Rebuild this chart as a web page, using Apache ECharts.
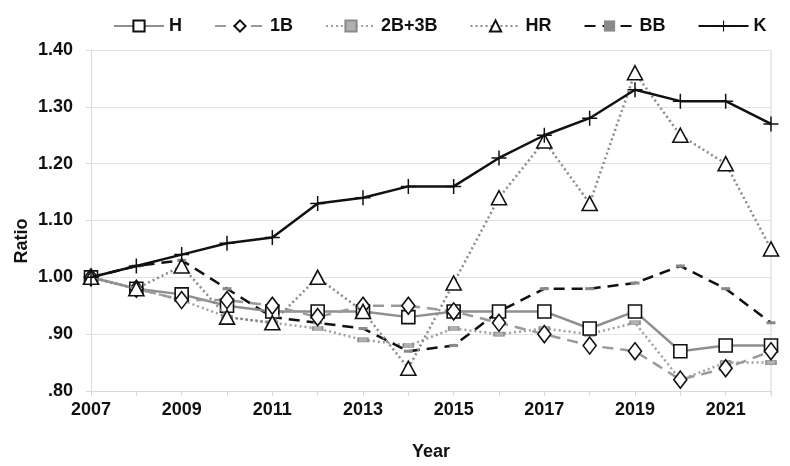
<!DOCTYPE html>
<html>
<head>
<meta charset="utf-8">
<script src="https://cdn.jsdelivr.net/npm/echarts@6/dist/echarts.min.js"></script>
<style>
  html, body { margin: 0; padding: 0; background: #fff; }
  #chart { width: 790px; height: 466px; }
</style>
</head>
<body>
<div id="chart"></div>
<script>
// Season-by-season ratios relative to 2007
const years = ['2007','2008','2009','2010','2011','2012','2013','2014','2015','2016','2017','2018','2019','2020','2021','2022'];
const hits    = [1.00, 0.98, 0.97, 0.95, 0.94, 0.94, 0.94, 0.93, 0.94, 0.94, 0.94, 0.91, 0.94, 0.87, 0.88, 0.88];
const singles = [1.00, 0.98, 0.96, 0.96, 0.95, 0.93, 0.95, 0.95, 0.94, 0.92, 0.90, 0.88, 0.87, 0.82, 0.84, 0.87];
const xbh     = [1.00, 0.98, 0.96, 0.93, 0.92, 0.91, 0.89, 0.88, 0.91, 0.90, 0.91, 0.90, 0.92, 0.82, 0.85, 0.85];
const homers  = [1.00, 0.98, 1.02, 0.93, 0.92, 1.00, 0.94, 0.84, 0.99, 1.14, 1.24, 1.13, 1.36, 1.25, 1.20, 1.05];
const walks   = [1.00, 1.02, 1.03, 0.98, 0.93, 0.92, 0.91, 0.87, 0.88, 0.94, 0.98, 0.98, 0.99, 1.02, 0.98, 0.92];
const strikeouts = [1.00, 1.02, 1.04, 1.06, 1.07, 1.13, 1.14, 1.16, 1.16, 1.21, 1.25, 1.28, 1.33, 1.31, 1.31, 1.27];

const seriesNames = ['H', '1B', '2B+3B', 'HR', 'BB', 'K'];
const yTicks = [0.8, 0.9, 1.0, 1.1, 1.2, 1.3, 1.4];
const yTickLabels = ['.80', '.90', '1.00', '1.10', '1.20', '1.30', '1.40'];

const FONT = '"Liberation Sans", Arial, sans-serif';
const PLUS = 'path://M9,0 H11 V9 H20 V11 H11 V20 H9 V11 H0 V9 H9 Z';
const hollow = { color: '#fff', borderColor: '#111', borderWidth: 1.6 };

const chart = echarts.init(document.getElementById('chart'), null, { renderer: 'canvas' });

chart.setOption({
  animation: false,
  backgroundColor: '#fff',
  textStyle: { fontFamily: FONT },
  legend: {
    top: 17,
    left: 113,
    width: 720,
    padding: 0,
    itemWidth: 50,
    itemHeight: 14,
    itemGap: 32,
    textStyle: { fontFamily: FONT, fontWeight: 'bold', fontSize: 18, color: '#111' },
    data: seriesNames
  },
  grid: { left: 91, right: 19, top: 50, bottom: 71, containLabel: false },
  xAxis: {
    type: 'category',
    data: years,
    boundaryGap: false,
    name: 'Year',
    nameLocation: 'middle',
    nameGap: 52,
    nameTextStyle: { fontFamily: FONT, fontWeight: 'bold', fontSize: 18, color: '#111' },
    axisLine: { lineStyle: { color: '#d9d9d9', width: 1 } },
    axisTick: { show: true, interval: 0, length: 5, lineStyle: { color: '#d9d9d9' } },
    axisLabel: { interval: 1, margin: 10, fontFamily: FONT, fontWeight: 'bold', fontSize: 18, color: '#111' },
    splitLine: { show: false }
  },
  yAxis: {
    type: 'value',
    min: 0.8,
    max: 1.4,
    interval: 0.1,
    axisLine: { show: true, lineStyle: { color: '#d9d9d9', width: 1 } },
    axisTick: { show: true, length: 5, lineStyle: { color: '#d9d9d9' } },
    axisLabel: {
      margin: 18,
      fontFamily: FONT, fontWeight: 'bold', fontSize: 18, color: '#111',
      formatter: function (v) {
        const i = yTicks.findIndex(t => Math.abs(t - v) < 1e-6);
        return i >= 0 ? yTickLabels[i] : '';
      }
    },
    splitLine: { show: true, lineStyle: { color: '#e3e3e3', width: 1 } }
  },
  graphic: [
    {
      type: 'text',
      x: 22, y: 241,
      rotation: Math.PI / 2,
      style: { text: 'Ratio', font: 'bold 18px ' + FONT, fill: '#111', textAlign: 'center', textVerticalAlign: 'middle' }
    },
    {
      type: 'rect',
      shape: { x: 771, y: 50, width: 0, height: 345 },
      style: { stroke: '#e3e3e3', lineWidth: 1, fill: null },
      silent: true
    }
  ],
  series: [
    {
      name: 'H', type: 'line', data: hits, z: 3,
      symbol: 'rect', symbolSize: 13, showAllSymbol: true,
      lineStyle: { color: '#8f8f8f', width: 2.5, type: 'solid' },
      itemStyle: hollow
    },
    {
      name: '1B', type: 'line', data: singles, z: 3,
      symbol: 'diamond', symbolSize: [13, 17], showAllSymbol: true,
      lineStyle: { color: '#9a9a9a', width: 2.5, type: [11, 7] },
      itemStyle: hollow
    },
    {
      name: '2B+3B', type: 'line', data: xbh, z: 2,
      symbol: 'rect', symbolSize: [10, 4], showAllSymbol: true,
      lineStyle: { color: '#a0a0a0', width: 2.5, type: [2, 3] },
      itemStyle: { color: '#b0b0b0', borderColor: '#8a8a8a', borderWidth: 1 }
    },
    {
      name: 'HR', type: 'line', data: homers, z: 4,
      symbol: 'triangle', symbolSize: [15, 14], showAllSymbol: true,
      lineStyle: { color: '#8a8a8a', width: 2.5, type: [2, 3] },
      itemStyle: hollow
    },
    {
      name: 'BB', type: 'line', data: walks, z: 2,
      symbol: 'rect', symbolSize: [9, 3], showAllSymbol: true,
      lineStyle: { color: '#111', width: 2.5, type: [11, 7] },
      itemStyle: { color: '#8a8a8a', borderWidth: 0 }
    },
    {
      name: 'K', type: 'line', data: strikeouts, z: 5,
      symbol: PLUS, symbolSize: 15, showAllSymbol: true,
      lineStyle: { color: '#111', width: 2.5, type: 'solid' },
      itemStyle: { color: '#111', borderWidth: 0 }
    }
  ]
});
</script>
</body>
</html>
